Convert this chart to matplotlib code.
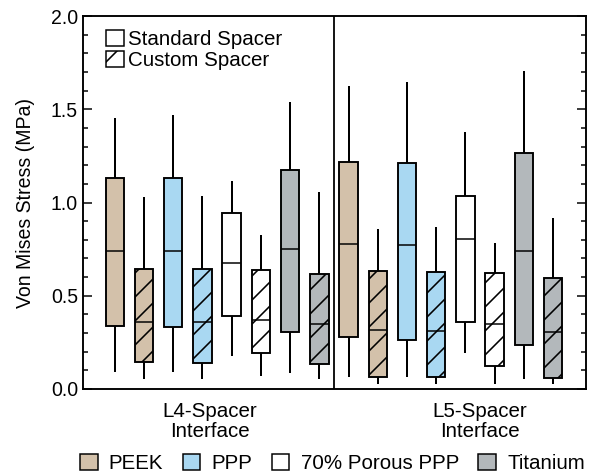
import matplotlib
matplotlib.use("Agg")
import matplotlib.pyplot as plt
from matplotlib.patches import Patch
import matplotlib.transforms as mtransforms

plt.rcParams['font.family'] = ['Liberation Sans', 'DejaVu Sans']
plt.rcParams['hatch.linewidth'] = 1.6

materials = ['PEEK', 'PPP', '70% Porous PPP', 'Titanium']
colors = ['#d3c1aa', '#a9d8f2', '#ffffff', '#b3b8bb']
groups = ['L4-Spacer\nInterface', 'L5-Spacer\nInterface']
spacer_types = ['Standard Spacer', 'Custom Spacer']

# L4 standard
l4_std_whishi = [1.448, 1.462, 1.110, 1.535]
l4_std_q3 = [1.133, 1.133, 0.942, 1.173]
l4_std_med = [0.741, 0.741, 0.677, 0.750]
l4_std_q1 = [0.339, 0.334, 0.391, 0.305]
l4_std_whislo = [0.098, 0.095, 0.184, 0.089]
# L4 custom
l4_cus_whishi = [1.024, 1.030, 0.822, 1.049]
l4_cus_q3 = [0.646, 0.643, 0.636, 0.616]
l4_cus_med = [0.361, 0.361, 0.370, 0.350]
l4_cus_q1 = [0.143, 0.141, 0.193, 0.136]
l4_cus_whislo = [0.057, 0.057, 0.073, 0.057]
# L5 standard
l5_std_whishi = [1.619, 1.641, 1.373, 1.700]
l5_std_q3 = [1.218, 1.214, 1.034, 1.268]
l5_std_med = [0.780, 0.773, 0.802, 0.739]
l5_std_q1 = [0.277, 0.261, 0.357, 0.236]
l5_std_whislo = [0.070, 0.070, 0.197, 0.061]
# L5 custom
l5_cus_whishi = [0.852, 0.861, 0.775, 0.911]
l5_cus_q3 = [0.634, 0.627, 0.620, 0.596]
l5_cus_med = [0.318, 0.311, 0.347, 0.305]
l5_cus_q1 = [0.063, 0.063, 0.122, 0.057]
l5_cus_whislo = [0.030, 0.030, 0.034, 0.030]

data = {
    (0, 0): (l4_std_whislo, l4_std_q1, l4_std_med, l4_std_q3, l4_std_whishi),
    (0, 1): (l4_cus_whislo, l4_cus_q1, l4_cus_med, l4_cus_q3, l4_cus_whishi),
    (1, 0): (l5_std_whislo, l5_std_q1, l5_std_med, l5_std_q3, l5_std_whishi),
    (1, 1): (l5_cus_whislo, l5_cus_q1, l5_cus_med, l5_cus_q3, l5_cus_whishi),
}

fig = plt.figure(figsize=(590 / 72, 476 / 72), dpi=72)
ax = fig.add_axes([83 / 590, 1 - 389 / 476, (586 - 83) / 590, (389 - 16) / 476])

for g in range(2):
    for m in range(4):
        for t in range(2):
            lo, q1, med, q3, hi = data[(g, t)]
            stats = [dict(whislo=lo[m], q1=q1[m], med=med[m], q3=q3[m], whishi=hi[m], fliers=[])]
            pos = 1 + g * 8 + m * 2 + t
            bp = ax.bxp(stats, positions=[pos], widths=0.63, showcaps=False,
                        showfliers=False, patch_artist=True,
                        boxprops=dict(facecolor=colors[m], edgecolor='black', linewidth=1.9),
                        medianprops=dict(color='black', linewidth=1.5),
                        whiskerprops=dict(color='black', linewidth=2.0))
            if t == 1:
                for b in bp['boxes']:
                    b.set_hatch('/')
            for w in bp['whiskers']:
                w.set_zorder(1)

ax.axvline(8.5, color='black', linewidth=1.8)
ax.set_xlim(-0.09, 17.13)
ax.set_ylim(0, 2.0)
ax.set_xticks([])
ax.set_yticks([0, 0.5, 1.0, 1.5, 2.0])
ax.set_yticklabels(['0.0', '0.5', '1.0', '1.5', '2.0'])
ax.set_yticks([v / 10 for v in range(21)], minor=True)
ax.tick_params(axis='y', which='both', direction='in', left=True, right=True,
               labelsize=19.5, width=1.5, pad=5)
ax.tick_params(axis='y', which='major', length=9)
ax.tick_params(axis='y', which='minor', length=5)
for s in ax.spines.values():
    s.set_linewidth(1.9)
ax.set_ylabel('Von Mises Stress (MPa)', fontsize=19.5, labelpad=16)

trans = mtransforms.blended_transform_factory(ax.transData, ax.transAxes)
for x, label in zip([4.25, 13.5], groups):
    ax.text(x, -0.087, label, transform=trans, ha='center', va='center',
            fontsize=20.5, linespacing=1.05)

top_handles = [Patch(facecolor='white', edgecolor='black', linewidth=1.5, label=spacer_types[0]),
               Patch(facecolor='white', edgecolor='black', linewidth=1.5, hatch='/', label=spacer_types[1])]
ax.legend(handles=top_handles, loc='upper left', bbox_to_anchor=(0.03, 0.985),
          frameon=False, fontsize=20.5, handlelength=0.85, handleheight=0.85,
          handletextpad=0.2, labelspacing=0.1, borderaxespad=0)

bot_handles = [Patch(facecolor=c, edgecolor='black', linewidth=1.5, label=l)
               for c, l in zip(colors, materials)]
fig.legend(handles=bot_handles, loc='center', bbox_to_anchor=(0.5636, 0.027),
           ncol=4, frameon=False, fontsize=20.5, handlelength=0.85, handleheight=0.85,
           handletextpad=0.55, columnspacing=0.95, borderaxespad=0)

fig.savefig('out.png', dpi=72)
